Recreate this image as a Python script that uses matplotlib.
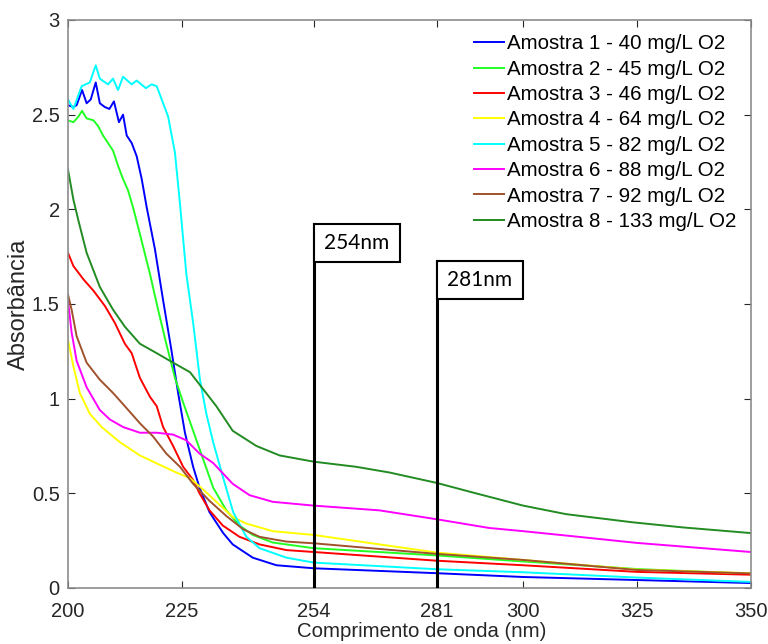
import matplotlib.pyplot as plt
from matplotlib.patches import Rectangle

plt.rcParams['font.family'] = ['Liberation Sans', 'DejaVu Sans']

# amostra 1 - azul
wl1 = [200, 201.2, 201.9, 203.1, 204.1, 205, 206.1, 207, 208.1, 209.1, 210.1, 211.2, 212.1, 212.9,
       214, 215.1, 216.2, 217.3, 219.1, 220.9, 222.7, 224.2, 225.7, 227.5, 228.9, 231.1, 234.1,
       236.2, 240.6, 245.8, 254, 281, 300, 325, 350]
ab1 = [2.55, 2.54, 2.55, 2.63, 2.56, 2.58, 2.67, 2.56, 2.54, 2.53, 2.57, 2.46, 2.50, 2.39,
       2.35, 2.28, 2.16, 2.01, 1.79, 1.52, 1.26, 1.03, 0.82, 0.64, 0.53, 0.40, 0.29,
       0.23, 0.16, 0.12, 0.104, 0.078, 0.058, 0.042, 0.026]

# amostra 2 - verde claro
wl2 = [200, 201.2, 202.3, 203.1, 204.1, 205.6, 206.6, 207.7, 208.8, 209.9, 211, 212.1, 213.2,
       214.3, 215.8, 218, 219.8, 221.6, 223.5, 225.3, 227.5, 229.7, 231.9, 234.8, 237.7, 240.6,
       245, 254, 281, 300, 325, 350]
ab2 = [2.47, 2.46, 2.49, 2.52, 2.48, 2.47, 2.44, 2.39, 2.35, 2.31, 2.23, 2.16, 2.10,
       2.01, 1.87, 1.66, 1.47, 1.29, 1.11, 0.98, 0.83, 0.68, 0.53, 0.41, 0.33, 0.28,
       0.24, 0.21, 0.172, 0.14, 0.10, 0.075]

# amostra 3 - vermelho
wl3 = [200, 201.2, 203.4, 205.6, 208.1, 210.3, 212.5, 214, 215.8, 218, 219.5, 220.9, 223.1,
       225.3, 227.5, 228.9, 231.1, 234, 237.7, 242.1, 248, 254, 281, 300, 325, 350]
ab3 = [1.77, 1.70, 1.63, 1.57, 1.49, 1.40, 1.29, 1.24, 1.11, 1.01, 0.96, 0.85, 0.75,
       0.64, 0.57, 0.50, 0.41, 0.33, 0.27, 0.23, 0.20, 0.19, 0.144, 0.12, 0.085, 0.07]

# amostra 4 - amarelo
wl4 = [200, 201.2, 202.6, 204.8, 207.4, 211.4, 215.8, 220.2, 223.8, 226.8, 229.7, 232.6,
       236.2, 239.2, 245, 254, 281, 300, 325, 350]
ab4 = [1.31, 1.17, 1.03, 0.92, 0.85, 0.77, 0.70, 0.65, 0.61, 0.58, 0.52, 0.455,
       0.375, 0.34, 0.30, 0.28, 0.187, 0.148, 0.097, 0.078]

# amostra 5 - ciano
wl5 = [200, 201.2, 203, 204.8, 206.1, 207, 208.8, 209.9, 211, 212.1, 214, 215.1, 217.1, 218.4,
       219.5, 222, 223.5, 224.6, 226, 227.5, 229, 230.4, 231.9, 234, 236.3, 239.2, 242.1, 248,
       254, 281, 300, 325, 350]
ab5 = [2.58, 2.53, 2.65, 2.67, 2.76, 2.69, 2.66, 2.69, 2.63, 2.70, 2.66, 2.68, 2.64, 2.66,
       2.65, 2.49, 2.30, 2.03, 1.66, 1.40, 1.10, 0.92, 0.77, 0.59, 0.40, 0.27, 0.21, 0.16,
       0.134, 0.099, 0.083, 0.055, 0.032]

# amostra 6 - magenta
wl6 = [200, 200.8, 201.9, 204.1, 207, 209.2, 212.1, 215.8, 219.5, 223.1, 226, 228.9, 231.9,
       236.2, 239.9, 245, 254, 268.4, 281, 292.5, 300, 309.4, 325, 350]
ab6 = [1.52, 1.35, 1.20, 1.06, 0.94, 0.89, 0.85, 0.82, 0.82, 0.81, 0.78, 0.71, 0.66,
       0.55, 0.49, 0.455, 0.435, 0.41, 0.363, 0.317, 0.30, 0.277, 0.238, 0.19]

# amostra 7 - marrom
wl7 = [200, 200.8, 201.9, 204.1, 207, 209.9, 212.5, 215.8, 218.7, 221.6, 224.6, 227.5, 231.1,
       234.8, 238.5, 242.1, 248, 254, 281, 300, 325, 350]
ab7 = [1.55, 1.47, 1.33, 1.19, 1.10, 1.03, 0.96, 0.87, 0.80, 0.71, 0.64, 0.55, 0.46,
       0.38, 0.31, 0.27, 0.245, 0.236, 0.18, 0.148, 0.095, 0.077]

# amostra 8 - verde escuro
wl8 = [200, 201.2, 202.3, 204.1, 207, 209.9, 212.5, 215.8, 219.5, 223.1, 226.8, 229.7, 232.6,
       236.2, 241.4, 246.5, 254, 263.3, 270.6, 281, 289.6, 300, 309.4, 324, 335, 350]
ab8 = [2.21, 2.05, 1.94, 1.77, 1.59, 1.47, 1.38, 1.29, 1.24, 1.19, 1.14, 1.05, 0.96,
       0.83, 0.75, 0.70, 0.667, 0.64, 0.61, 0.555, 0.50, 0.435, 0.39, 0.347, 0.32, 0.29]

labels = ['Amostra 1 - 40 mg/L O2', 'Amostra 2 - 45 mg/L O2', 'Amostra 3 - 46 mg/L O2',
          'Amostra 4 - 64 mg/L O2', 'Amostra 5 - 82 mg/L O2', 'Amostra 6 - 88 mg/L O2',
          'Amostra 7 - 92 mg/L O2', 'Amostra 8 - 133 mg/L O2']
cores = ['#0000ff', '#22ff22', '#ff0000', '#ffff00', '#00ffff', '#ff00ff', '#a0522d', '#228b22']
series = [(wl1, ab1), (wl2, ab2), (wl3, ab3), (wl4, ab4),
          (wl5, ab5), (wl6, ab6), (wl7, ab7), (wl8, ab8)]

xticks = [200, 225, 254, 281, 300, 325, 350]

# marcadores dos comprimentos de onda
marc_wl = [254, 281]
marc_txt = ['254nm', '281nm']
marc_topo = [1.923, 1.727]
box_w, box_h = 18.9, 0.2

fig = plt.figure(figsize=(7.68, 6.44), dpi=100)
ax = fig.add_axes([0.0885, 0.087, 0.889, 0.882])

for (x, y), c, lab in zip(series, cores, labels):
    ax.plot(x, y, color=c, lw=1.4, label=lab)

for w, t, top in zip(marc_wl, marc_txt, marc_topo):
    ax.plot([w, w], [0, top], color='black', lw=2.2, zorder=5)
    ax.add_patch(Rectangle((w, top - box_h), box_w, box_h, fill=True, facecolor='white',
                           edgecolor='black', lw=1.5, zorder=5))
    ax.text(w + box_w / 2, top - box_h / 2, t, ha='center', va='center', fontsize=15,
            family=['Lato', 'DejaVu Sans'], zorder=6)

ax.set_xlim(200, 350)
ax.set_ylim(0, 3)
ax.set_xticks(xticks)
ax.set_yticks([0, 0.5, 1, 1.5, 2, 2.5, 3])
ax.set_yticklabels(['0', '0.5', '1', '1.5', '2', '2.5', '3'])
ax.tick_params(direction='in', top=True, right=True, labelsize=14.5, colors='#262626',
               length=5, width=0.8)
ax.tick_params(axis='x', pad=10)
ax.tick_params(axis='y', pad=6)
for s in ax.spines.values():
    s.set_color('#8c8c8c')
    s.set_linewidth(1.2)
ax.set_xlabel('Comprimento de onda (nm)', fontsize=14.7, color='#262626')
ax.xaxis.set_label_coords(0.518, -0.06)
ax.set_ylabel('Absorbância', fontsize=17, color='#262626')
ax.yaxis.set_label_coords(-0.056, 0.5)

ax.legend(loc='upper right', frameon=False, fontsize=14.8, handlelength=1.45,
          handletextpad=0.15, labelspacing=0.31, borderaxespad=0.3)

fig.savefig('out.png', dpi=100)
